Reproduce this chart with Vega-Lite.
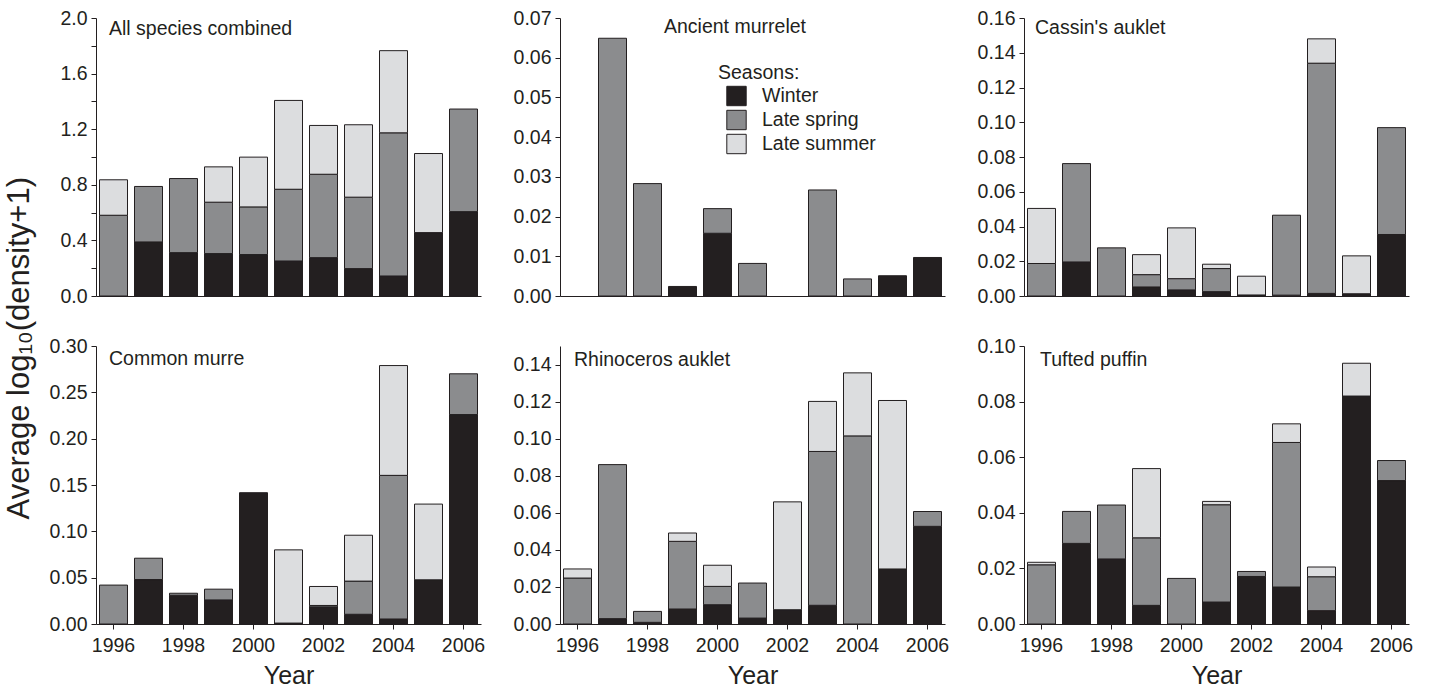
{
  "$schema": "https://vega.github.io/schema/vega-lite/v6.json",
  "background": "white",
  "padding": {"left": 4, "top": 8, "right": 5, "bottom": 0},
  "config": {
    "view": {"stroke": null},
    "font": "Liberation Sans",
    "axis": {
      "grid": false,
      "domainColor": "#231f20",
      "domainWidth": 1,
      "tickColor": "#231f20",
      "tickWidth": 1,
      "tickSize": 5,
      "labelFont": "Liberation Sans",
      "labelFontSize": 19.5,
      "labelColor": "#231f20",
      "labelPadding": 4,
      "titleFont": "Liberation Sans",
      "titleFontSize": 25,
      "titleFontWeight": "normal",
      "titleColor": "#231f20"
    },
    "title": {
      "font": "Liberation Sans",
      "fontSize": 19.5,
      "fontWeight": "normal",
      "color": "#231f20",
      "anchor": "start",
      "frame": "group",
      "baseline": "alphabetic",
      "offset": 0
    },
    "legend": {
      "labelFont": "Liberation Sans",
      "labelFontSize": 19.5,
      "labelColor": "#231f20",
      "titleFont": "Liberation Sans",
      "titleFontSize": 19.5,
      "titleFontWeight": "normal",
      "titleColor": "#231f20"
    }
  },
  "datasets": {
    "seasonRank": [
      {"season": "Winter", "rank": 1},
      {"season": "Late spring", "rank": 2},
      {"season": "Late summer", "rank": 3}
    ],
    "obs": [
      {"species": "All species combined", "year": 1996, "season": "Late spring", "value": 0.581},
      {"species": "All species combined", "year": 1996, "season": "Late summer", "value": 0.255},
      {"species": "All species combined", "year": 1997, "season": "Winter", "value": 0.389},
      {"species": "All species combined", "year": 1997, "season": "Late spring", "value": 0.399},
      {"species": "All species combined", "year": 1998, "season": "Winter", "value": 0.312},
      {"species": "All species combined", "year": 1998, "season": "Late spring", "value": 0.533},
      {"species": "All species combined", "year": 1999, "season": "Winter", "value": 0.305},
      {"species": "All species combined", "year": 1999, "season": "Late spring", "value": 0.370},
      {"species": "All species combined", "year": 1999, "season": "Late summer", "value": 0.254},
      {"species": "All species combined", "year": 2000, "season": "Winter", "value": 0.298},
      {"species": "All species combined", "year": 2000, "season": "Late spring", "value": 0.343},
      {"species": "All species combined", "year": 2000, "season": "Late summer", "value": 0.358},
      {"species": "All species combined", "year": 2001, "season": "Winter", "value": 0.252},
      {"species": "All species combined", "year": 2001, "season": "Late spring", "value": 0.516},
      {"species": "All species combined", "year": 2001, "season": "Late summer", "value": 0.639},
      {"species": "All species combined", "year": 2002, "season": "Winter", "value": 0.276},
      {"species": "All species combined", "year": 2002, "season": "Late spring", "value": 0.600},
      {"species": "All species combined", "year": 2002, "season": "Late summer", "value": 0.351},
      {"species": "All species combined", "year": 2003, "season": "Winter", "value": 0.197},
      {"species": "All species combined", "year": 2003, "season": "Late spring", "value": 0.514},
      {"species": "All species combined", "year": 2003, "season": "Late summer", "value": 0.521},
      {"species": "All species combined", "year": 2004, "season": "Winter", "value": 0.144},
      {"species": "All species combined", "year": 2004, "season": "Late spring", "value": 1.030},
      {"species": "All species combined", "year": 2004, "season": "Late summer", "value": 0.591},
      {"species": "All species combined", "year": 2005, "season": "Winter", "value": 0.456},
      {"species": "All species combined", "year": 2005, "season": "Late summer", "value": 0.569},
      {"species": "All species combined", "year": 2006, "season": "Winter", "value": 0.607},
      {"species": "All species combined", "year": 2006, "season": "Late spring", "value": 0.738},

      {"species": "Ancient murrelet", "year": 1997, "season": "Late spring", "value": 0.0649},
      {"species": "Ancient murrelet", "year": 1998, "season": "Late spring", "value": 0.0283},
      {"species": "Ancient murrelet", "year": 1999, "season": "Winter", "value": 0.0024},
      {"species": "Ancient murrelet", "year": 2000, "season": "Winter", "value": 0.0158},
      {"species": "Ancient murrelet", "year": 2000, "season": "Late spring", "value": 0.0062},
      {"species": "Ancient murrelet", "year": 2001, "season": "Late spring", "value": 0.0082},
      {"species": "Ancient murrelet", "year": 2003, "season": "Late spring", "value": 0.0267},
      {"species": "Ancient murrelet", "year": 2004, "season": "Late spring", "value": 0.0043},
      {"species": "Ancient murrelet", "year": 2005, "season": "Winter", "value": 0.0051},
      {"species": "Ancient murrelet", "year": 2006, "season": "Winter", "value": 0.0097},

      {"species": "Cassin's auklet", "year": 1996, "season": "Late spring", "value": 0.0187},
      {"species": "Cassin's auklet", "year": 1996, "season": "Late summer", "value": 0.0317},
      {"species": "Cassin's auklet", "year": 1997, "season": "Winter", "value": 0.0196},
      {"species": "Cassin's auklet", "year": 1997, "season": "Late spring", "value": 0.0566},
      {"species": "Cassin's auklet", "year": 1998, "season": "Late spring", "value": 0.0277},
      {"species": "Cassin's auklet", "year": 1999, "season": "Winter", "value": 0.0052},
      {"species": "Cassin's auklet", "year": 1999, "season": "Late spring", "value": 0.0071},
      {"species": "Cassin's auklet", "year": 1999, "season": "Late summer", "value": 0.0115},
      {"species": "Cassin's auklet", "year": 2000, "season": "Winter", "value": 0.0035},
      {"species": "Cassin's auklet", "year": 2000, "season": "Late spring", "value": 0.0065},
      {"species": "Cassin's auklet", "year": 2000, "season": "Late summer", "value": 0.0292},
      {"species": "Cassin's auklet", "year": 2001, "season": "Winter", "value": 0.0025},
      {"species": "Cassin's auklet", "year": 2001, "season": "Late spring", "value": 0.0133},
      {"species": "Cassin's auklet", "year": 2001, "season": "Late summer", "value": 0.0025},
      {"species": "Cassin's auklet", "year": 2002, "season": "Winter", "value": 0.0006},
      {"species": "Cassin's auklet", "year": 2002, "season": "Late summer", "value": 0.0108},
      {"species": "Cassin's auklet", "year": 2003, "season": "Winter", "value": 0.0005},
      {"species": "Cassin's auklet", "year": 2003, "season": "Late spring", "value": 0.0460},
      {"species": "Cassin's auklet", "year": 2004, "season": "Winter", "value": 0.0015},
      {"species": "Cassin's auklet", "year": 2004, "season": "Late spring", "value": 0.1325},
      {"species": "Cassin's auklet", "year": 2004, "season": "Late summer", "value": 0.0140},
      {"species": "Cassin's auklet", "year": 2005, "season": "Winter", "value": 0.0013},
      {"species": "Cassin's auklet", "year": 2005, "season": "Late summer", "value": 0.0218},
      {"species": "Cassin's auklet", "year": 2006, "season": "Winter", "value": 0.0354},
      {"species": "Cassin's auklet", "year": 2006, "season": "Late spring", "value": 0.0615},

      {"species": "Common murre", "year": 1996, "season": "Late spring", "value": 0.0420},
      {"species": "Common murre", "year": 1997, "season": "Winter", "value": 0.0480},
      {"species": "Common murre", "year": 1997, "season": "Late spring", "value": 0.0230},
      {"species": "Common murre", "year": 1998, "season": "Winter", "value": 0.0310},
      {"species": "Common murre", "year": 1998, "season": "Late spring", "value": 0.0022},
      {"species": "Common murre", "year": 1999, "season": "Winter", "value": 0.0260},
      {"species": "Common murre", "year": 1999, "season": "Late spring", "value": 0.0116},
      {"species": "Common murre", "year": 2000, "season": "Winter", "value": 0.1417},
      {"species": "Common murre", "year": 2001, "season": "Winter", "value": 0.0010},
      {"species": "Common murre", "year": 2001, "season": "Late summer", "value": 0.0790},
      {"species": "Common murre", "year": 2002, "season": "Winter", "value": 0.0185},
      {"species": "Common murre", "year": 2002, "season": "Late spring", "value": 0.0015},
      {"species": "Common murre", "year": 2002, "season": "Late summer", "value": 0.0205},
      {"species": "Common murre", "year": 2003, "season": "Winter", "value": 0.0105},
      {"species": "Common murre", "year": 2003, "season": "Late spring", "value": 0.0358},
      {"species": "Common murre", "year": 2003, "season": "Late summer", "value": 0.0495},
      {"species": "Common murre", "year": 2004, "season": "Winter", "value": 0.0054},
      {"species": "Common murre", "year": 2004, "season": "Late spring", "value": 0.1550},
      {"species": "Common murre", "year": 2004, "season": "Late summer", "value": 0.1185},
      {"species": "Common murre", "year": 2005, "season": "Winter", "value": 0.0477},
      {"species": "Common murre", "year": 2005, "season": "Late summer", "value": 0.0817},
      {"species": "Common murre", "year": 2006, "season": "Winter", "value": 0.2260},
      {"species": "Common murre", "year": 2006, "season": "Late spring", "value": 0.0440},

      {"species": "Rhinoceros auklet", "year": 1996, "season": "Late spring", "value": 0.0248},
      {"species": "Rhinoceros auklet", "year": 1996, "season": "Late summer", "value": 0.0049},
      {"species": "Rhinoceros auklet", "year": 1997, "season": "Winter", "value": 0.0029},
      {"species": "Rhinoceros auklet", "year": 1997, "season": "Late spring", "value": 0.0831},
      {"species": "Rhinoceros auklet", "year": 1998, "season": "Winter", "value": 0.0009},
      {"species": "Rhinoceros auklet", "year": 1998, "season": "Late spring", "value": 0.0059},
      {"species": "Rhinoceros auklet", "year": 1999, "season": "Winter", "value": 0.0081},
      {"species": "Rhinoceros auklet", "year": 1999, "season": "Late spring", "value": 0.0365},
      {"species": "Rhinoceros auklet", "year": 1999, "season": "Late summer", "value": 0.0045},
      {"species": "Rhinoceros auklet", "year": 2000, "season": "Winter", "value": 0.0104},
      {"species": "Rhinoceros auklet", "year": 2000, "season": "Late spring", "value": 0.0099},
      {"species": "Rhinoceros auklet", "year": 2000, "season": "Late summer", "value": 0.0114},
      {"species": "Rhinoceros auklet", "year": 2001, "season": "Winter", "value": 0.0032},
      {"species": "Rhinoceros auklet", "year": 2001, "season": "Late spring", "value": 0.0189},
      {"species": "Rhinoceros auklet", "year": 2002, "season": "Winter", "value": 0.0077},
      {"species": "Rhinoceros auklet", "year": 2002, "season": "Late summer", "value": 0.0582},
      {"species": "Rhinoceros auklet", "year": 2003, "season": "Winter", "value": 0.0101},
      {"species": "Rhinoceros auklet", "year": 2003, "season": "Late spring", "value": 0.0830},
      {"species": "Rhinoceros auklet", "year": 2003, "season": "Late summer", "value": 0.0270},
      {"species": "Rhinoceros auklet", "year": 2004, "season": "Late spring", "value": 0.1015},
      {"species": "Rhinoceros auklet", "year": 2004, "season": "Late summer", "value": 0.0340},
      {"species": "Rhinoceros auklet", "year": 2005, "season": "Winter", "value": 0.0297},
      {"species": "Rhinoceros auklet", "year": 2005, "season": "Late summer", "value": 0.0909},
      {"species": "Rhinoceros auklet", "year": 2006, "season": "Winter", "value": 0.0527},
      {"species": "Rhinoceros auklet", "year": 2006, "season": "Late spring", "value": 0.0080},

      {"species": "Tufted puffin", "year": 1996, "season": "Late spring", "value": 0.0213},
      {"species": "Tufted puffin", "year": 1996, "season": "Late summer", "value": 0.0009},
      {"species": "Tufted puffin", "year": 1997, "season": "Winter", "value": 0.0290},
      {"species": "Tufted puffin", "year": 1997, "season": "Late spring", "value": 0.0115},
      {"species": "Tufted puffin", "year": 1998, "season": "Winter", "value": 0.0234},
      {"species": "Tufted puffin", "year": 1998, "season": "Late spring", "value": 0.0194},
      {"species": "Tufted puffin", "year": 1999, "season": "Winter", "value": 0.0067},
      {"species": "Tufted puffin", "year": 1999, "season": "Late spring", "value": 0.0243},
      {"species": "Tufted puffin", "year": 1999, "season": "Late summer", "value": 0.0249},
      {"species": "Tufted puffin", "year": 2000, "season": "Late spring", "value": 0.0164},
      {"species": "Tufted puffin", "year": 2001, "season": "Winter", "value": 0.0079},
      {"species": "Tufted puffin", "year": 2001, "season": "Late spring", "value": 0.0350},
      {"species": "Tufted puffin", "year": 2001, "season": "Late summer", "value": 0.0012},
      {"species": "Tufted puffin", "year": 2002, "season": "Winter", "value": 0.0171},
      {"species": "Tufted puffin", "year": 2002, "season": "Late spring", "value": 0.0018},
      {"species": "Tufted puffin", "year": 2003, "season": "Winter", "value": 0.0133},
      {"species": "Tufted puffin", "year": 2003, "season": "Late spring", "value": 0.0520},
      {"species": "Tufted puffin", "year": 2003, "season": "Late summer", "value": 0.0067},
      {"species": "Tufted puffin", "year": 2004, "season": "Winter", "value": 0.0048},
      {"species": "Tufted puffin", "year": 2004, "season": "Late spring", "value": 0.0122},
      {"species": "Tufted puffin", "year": 2004, "season": "Late summer", "value": 0.0035},
      {"species": "Tufted puffin", "year": 2005, "season": "Winter", "value": 0.0820},
      {"species": "Tufted puffin", "year": 2005, "season": "Late summer", "value": 0.0118},
      {"species": "Tufted puffin", "year": 2006, "season": "Winter", "value": 0.0516},
      {"species": "Tufted puffin", "year": 2006, "season": "Late spring", "value": 0.0072}
    ]
  },
  "title": {
    "text": "Average log₁₀(density+1)",
    "orient": "left",
    "anchor": "middle",
    "frame": "bounds",
    "baseline": "bottom",
    "fontSize": 31,
    "offset": -18
  },
  "columns": 3,
  "bounds": "flush",
  "spacing": {"row": 50, "column": 79},
  "resolve": {"legend": {"color": "independent"}},
  "concat": [
    {
      "width": 385, "height": 278,
      "title": {"text": "All species combined", "dx": 13, "dy": 35},
      "data": {"name": "obs"},
      "transform": [
        {"filter": "datum.species === 'All species combined'"},
        {"lookup": "season", "from": {"data": {"name": "seasonRank"}, "key": "season", "fields": ["rank"]}}
      ],
      "mark": {"type": "bar", "stroke": "#231f20", "strokeWidth": 1},
      "encoding": {
        "x": {"field": "year", "type": "ordinal",
              "scale": {"domain": [1996, 1997, 1998, 1999, 2000, 2001, 2002, 2003, 2004, 2005, 2006], "paddingInner": 0.2, "paddingOuter": 0.1},
              "axis": {"title": null, "labels": false, "ticks": false}},
        "y": {"field": "value", "type": "quantitative", "stack": "zero",
              "scale": {"domain": [0, 2], "nice": false},
              "axis": {"title": null, "values": [0, 0.2, 0.4, 0.6, 0.8, 1, 1.2, 1.4, 1.6, 1.8, 2], "format": ".1f",
                       "labelExpr": "round(datum.value * 10) % 4 === 0 ? datum.label : ''"}},
        "order": {"field": "rank", "type": "quantitative", "sort": "ascending"},
        "color": {"field": "season", "type": "nominal", "sort": ["Winter", "Late spring", "Late summer"],
                  "scale": {"domain": ["Winter", "Late spring", "Late summer"], "range": ["#231f20", "#8b8c8e", "#dcdddf"]},
                  "legend": null}
      }
    },
    {
      "width": 385, "height": 278,
      "title": {"text": "Ancient murrelet", "dx": 104, "dy": 33},
      "data": {"name": "obs"},
      "transform": [
        {"filter": "datum.species === 'Ancient murrelet'"},
        {"lookup": "season", "from": {"data": {"name": "seasonRank"}, "key": "season", "fields": ["rank"]}}
      ],
      "mark": {"type": "bar", "stroke": "#231f20", "strokeWidth": 1},
      "encoding": {
        "x": {"field": "year", "type": "ordinal",
              "scale": {"domain": [1996, 1997, 1998, 1999, 2000, 2001, 2002, 2003, 2004, 2005, 2006], "paddingInner": 0.2, "paddingOuter": 0.1},
              "axis": {"title": null, "labels": false, "ticks": false}},
        "y": {"field": "value", "type": "quantitative", "stack": "zero",
              "scale": {"domain": [0, 0.07], "nice": false},
              "axis": {"title": null, "values": [0, 0.01, 0.02, 0.03, 0.04, 0.05, 0.06, 0.07], "format": ".2f"}},
        "order": {"field": "rank", "type": "quantitative", "sort": "ascending"},
        "color": {"field": "season", "type": "nominal", "sort": ["Winter", "Late spring", "Late summer"],
                  "scale": {"domain": ["Winter", "Late spring", "Late summer"], "range": ["#231f20", "#8b8c8e", "#dcdddf"]},
                  "legend": {"title": "Seasons:", "orient": "none", "legendX": 158, "legendY": 46,
                             "direction": "vertical", "symbolType": "square", "symbolSize": 376,
                             "symbolStrokeColor": "#231f20", "symbolStrokeWidth": 1,
                             "symbolOffset": 8, "labelOffset": 15, "rowPadding": -1, "titlePadding": 2, "padding": 0}}
      }
    },
    {
      "width": 385, "height": 278,
      "title": {"text": "Cassin's auklet", "dx": 11, "dy": 34},
      "data": {"name": "obs"},
      "transform": [
        {"filter": "datum.species === \"Cassin's auklet\""},
        {"lookup": "season", "from": {"data": {"name": "seasonRank"}, "key": "season", "fields": ["rank"]}}
      ],
      "mark": {"type": "bar", "stroke": "#231f20", "strokeWidth": 1},
      "encoding": {
        "x": {"field": "year", "type": "ordinal",
              "scale": {"domain": [1996, 1997, 1998, 1999, 2000, 2001, 2002, 2003, 2004, 2005, 2006], "paddingInner": 0.2, "paddingOuter": 0.1},
              "axis": {"title": null, "labels": false, "ticks": false}},
        "y": {"field": "value", "type": "quantitative", "stack": "zero",
              "scale": {"domain": [0, 0.16], "nice": false},
              "axis": {"title": null, "values": [0, 0.02, 0.04, 0.06, 0.08, 0.1, 0.12, 0.14, 0.16], "format": ".2f"}},
        "order": {"field": "rank", "type": "quantitative", "sort": "ascending"},
        "color": {"field": "season", "type": "nominal", "sort": ["Winter", "Late spring", "Late summer"],
                  "scale": {"domain": ["Winter", "Late spring", "Late summer"], "range": ["#231f20", "#8b8c8e", "#dcdddf"]},
                  "legend": null}
      }
    },
    {
      "width": 385, "height": 278,
      "title": {"text": "Common murre", "dx": 13, "dy": 37},
      "data": {"name": "obs"},
      "transform": [
        {"filter": "datum.species === 'Common murre'"},
        {"lookup": "season", "from": {"data": {"name": "seasonRank"}, "key": "season", "fields": ["rank"]}}
      ],
      "mark": {"type": "bar", "stroke": "#231f20", "strokeWidth": 1},
      "encoding": {
        "x": {"field": "year", "type": "ordinal",
              "scale": {"domain": [1996, 1997, 1998, 1999, 2000, 2001, 2002, 2003, 2004, 2005, 2006], "paddingInner": 0.2, "paddingOuter": 0.1},
              "axis": {"title": "Year", "values": [1996, 1998, 2000, 2002, 2004, 2006], "labelAngle": 0, "labelPadding": 7, "titlePadding": 9}},
        "y": {"field": "value", "type": "quantitative", "stack": "zero",
              "scale": {"domain": [0, 0.3], "nice": false},
              "axis": {"title": null, "values": [0, 0.05, 0.1, 0.15, 0.2, 0.25, 0.3], "format": ".2f"}},
        "order": {"field": "rank", "type": "quantitative", "sort": "ascending"},
        "color": {"field": "season", "type": "nominal", "sort": ["Winter", "Late spring", "Late summer"],
                  "scale": {"domain": ["Winter", "Late spring", "Late summer"], "range": ["#231f20", "#8b8c8e", "#dcdddf"]},
                  "legend": null}
      }
    },
    {
      "width": 385, "height": 278,
      "title": {"text": "Rhinoceros auklet", "dx": 14, "dy": 28},
      "data": {"name": "obs"},
      "transform": [
        {"filter": "datum.species === 'Rhinoceros auklet'"},
        {"lookup": "season", "from": {"data": {"name": "seasonRank"}, "key": "season", "fields": ["rank"]}}
      ],
      "mark": {"type": "bar", "stroke": "#231f20", "strokeWidth": 1},
      "encoding": {
        "x": {"field": "year", "type": "ordinal",
              "scale": {"domain": [1996, 1997, 1998, 1999, 2000, 2001, 2002, 2003, 2004, 2005, 2006], "paddingInner": 0.2, "paddingOuter": 0.1},
              "axis": {"title": "Year", "values": [1996, 1998, 2000, 2002, 2004, 2006], "labelAngle": 0, "labelPadding": 7, "titlePadding": 9}},
        "y": {"field": "value", "type": "quantitative", "stack": "zero",
              "scale": {"domain": [0, 0.15], "nice": false},
              "axis": {"title": null, "values": [0, 0.02, 0.04, 0.06, 0.08, 0.1, 0.12, 0.14], "format": ".2f"}},
        "order": {"field": "rank", "type": "quantitative", "sort": "ascending"},
        "color": {"field": "season", "type": "nominal", "sort": ["Winter", "Late spring", "Late summer"],
                  "scale": {"domain": ["Winter", "Late spring", "Late summer"], "range": ["#231f20", "#8b8c8e", "#dcdddf"]},
                  "legend": null}
      }
    },
    {
      "width": 385, "height": 278,
      "title": {"text": "Tufted puffin", "dx": 16, "dy": 38},
      "data": {"name": "obs"},
      "transform": [
        {"filter": "datum.species === 'Tufted puffin'"},
        {"lookup": "season", "from": {"data": {"name": "seasonRank"}, "key": "season", "fields": ["rank"]}}
      ],
      "mark": {"type": "bar", "stroke": "#231f20", "strokeWidth": 1},
      "encoding": {
        "x": {"field": "year", "type": "ordinal",
              "scale": {"domain": [1996, 1997, 1998, 1999, 2000, 2001, 2002, 2003, 2004, 2005, 2006], "paddingInner": 0.2, "paddingOuter": 0.1},
              "axis": {"title": "Year", "values": [1996, 1998, 2000, 2002, 2004, 2006], "labelAngle": 0, "labelPadding": 7, "titlePadding": 9}},
        "y": {"field": "value", "type": "quantitative", "stack": "zero",
              "scale": {"domain": [0, 0.1], "nice": false},
              "axis": {"title": null, "values": [0, 0.02, 0.04, 0.06, 0.08, 0.1], "format": ".2f"}},
        "order": {"field": "rank", "type": "quantitative", "sort": "ascending"},
        "color": {"field": "season", "type": "nominal", "sort": ["Winter", "Late spring", "Late summer"],
                  "scale": {"domain": ["Winter", "Late spring", "Late summer"], "range": ["#231f20", "#8b8c8e", "#dcdddf"]},
                  "legend": null}
      }
    }
  ]
}
